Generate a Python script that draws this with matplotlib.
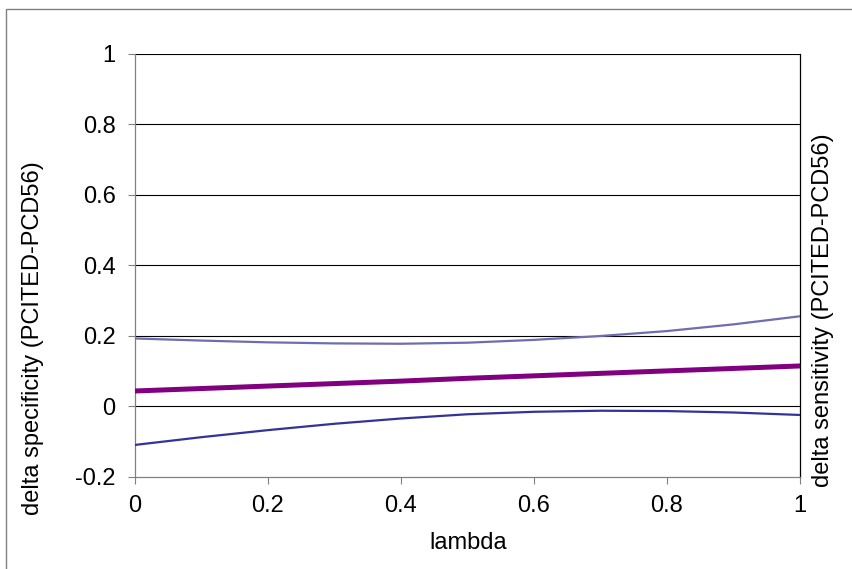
import matplotlib
matplotlib.use("Agg")
import matplotlib.pyplot as plt
from matplotlib.patches import Rectangle

lam = [0.0, 0.1, 0.2, 0.3, 0.4, 0.5, 0.6, 0.7, 0.8, 0.9, 1.0]
upper = [0.193, 0.187, 0.182, 0.179, 0.178, 0.181, 0.189, 0.200, 0.214, 0.233, 0.256]
middle = [0.044, 0.051, 0.058, 0.065, 0.072, 0.080, 0.087, 0.094, 0.101, 0.108, 0.115]
lower = [-0.109, -0.087, -0.067, -0.049, -0.034, -0.022, -0.015, -0.012, -0.013, -0.017, -0.024]
xticks = [0, 0.2, 0.4, 0.6, 0.8, 1]
xticklabels = ["0", "0.2", "0.4", "0.6", "0.8", "1"]
yticks = [-0.2, 0, 0.2, 0.4, 0.6, 0.8, 1]
yticklabels = ["-0.2", "0", "0.2", "0.4", "0.6", "0.8", "1"]

plt.rcParams['font.family'] = ['Liberation Sans', 'DejaVu Sans']
FS = 17

fig = plt.figure(figsize=(8.53, 5.69), dpi=100)
ax = fig.add_axes([135/853, 1-477/569, (800-135)/853, (477-54)/569])

for y in yticks[1:]:
    ax.axhline(y, color="black", lw=0.8, zorder=1)

ax.plot(lam, upper, color="#6E6EAE", lw=1.6, zorder=3)
ax.plot(lam, lower, color="#333399", lw=1.6, zorder=3)
ax.plot(lam, middle, color="#800080", lw=3.6, zorder=4)

ax.set_xlim(0, 1)
ax.set_ylim(-0.2, 1)
ax.set_xticks(xticks)
ax.set_xticklabels(xticklabels)
ax.set_yticks(yticks)
ax.set_yticklabels(yticklabels)
ax.tick_params(axis='both', labelsize=FS, direction='out', length=5, width=0.8, color="#808080")
ax.tick_params(axis='y', pad=9)
ax.tick_params(axis='x', pad=8)

ax.spines['left'].set_color("#808080")
ax.spines['bottom'].set_color("#808080")
ax.spines['top'].set_visible(False)
ax.spines['right'].set_color("black")
for s in ax.spines.values():
    s.set_linewidth(0.9)

fig.text(468/853, 1-543/569, "lambda", ha="center", va="center", fontsize=FS)
fig.text(33/853, 1-338/569, "delta specificity (PCITED-PCD56)", rotation=90,
         ha="center", va="center", fontsize=FS)
fig.text(823/853, 1-310/569, "delta sensitivity (PCITED-PCD56)", rotation=90,
         ha="center", va="center", fontsize=FS)

rect = Rectangle((6/853, -0.1), 2, 1.1 - 9/569, transform=fig.transFigure,
                 fill=False, edgecolor="#808080", lw=1.0, clip_on=False)
fig.patches.append(rect)

fig.savefig("out.png", dpi=100)
